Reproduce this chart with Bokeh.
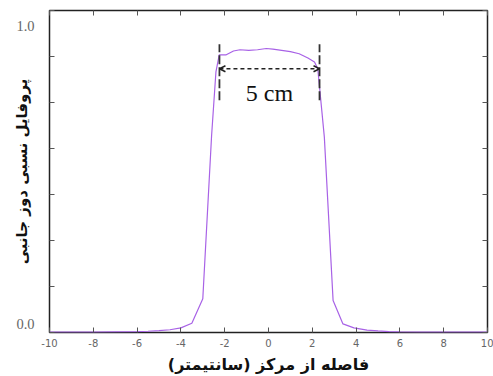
from bokeh.plotting import figure
from bokeh.models import (LinearAxis, FixedTicker, Label, Arrow, OpenHead,
                          Range1d, ColumnDataSource, NumeralTickFormatter)
from bokeh.embed import file_html
from bokeh.resources import INLINE

# ---- data ----
distance_cm = [-10, -9, -8, -7, -6, -5.5, -5, -4.5, -4, -3.5, -3.0, -2.6, -2.4,
               -2.25, -1.95, -1.6, -1.3, -0.9, -0.5, -0.1, 0.2, 0.6, 1.0, 1.4,
               1.8, 2.1, 2.25, 2.55, 2.95, 3.4, 3.9, 4.5, 5, 5.5, 6, 7, 8, 9, 10]
relative_dose = [0.001, 0.001, 0.001, 0.002, 0.003, 0.004, 0.006, 0.009, 0.015,
                 0.03, 0.11, 0.64, 0.85, 0.905, 0.905, 0.918, 0.922, 0.92,
                 0.922, 0.926, 0.924, 0.92, 0.916, 0.909, 0.895, 0.882, 0.86,
                 0.637, 0.104, 0.028, 0.015, 0.008, 0.005, 0.003, 0.002, 0.001,
                 0.001, 0.001, 0.001]
x_ticks = [-10, -8, -6, -4, -2, 0, 2, 4, 6, 8, 10]
x_tick_labels = ["-10", "-8", "-6", "-4", "-2", "0", "2", "4", "6", "8", "10"]
y_ticks = [0, 0.15, 0.3, 0.45, 0.6, 0.75, 0.9, 1.05]
y_label_ticks = [0.027, 1.0]      # where the "0.0" / "1.0" labels sit
field_edges = [-2.24, 2.33]       # 5 cm field width markers
field_marker_span = [0.757, 0.94]
width_arrow_level = 0.86
width_text = "5 cm"

x_title = "فاصله از مرکز (سانتیمتر)"
y_title = "پروفایل نسبی دوز جانبی"

p = figure(width=493, height=376, output_backend="svg", toolbar_location=None,
           x_range=Range1d(-10, 10), y_range=Range1d(0, 1.05),
           min_border_left=49, min_border_right=6, min_border_top=10,
           min_border_bottom=44, x_axis_location=None, y_axis_location=None)
p.grid.visible = False
p.outline_line_color = "#222222"
p.outline_line_width = 1.5
p.background_fill_color = "white"
p.border_fill_color = "white"

def style_axis(ax, show_labels=False):
    ax.axis_line_color = None
    ax.major_tick_in = 5
    ax.major_tick_out = 0
    ax.minor_tick_line_color = None
    ax.major_tick_line_color = "#555555"
    ax.major_tick_line_width = 1
    if not show_labels:
        ax.major_label_text_font_size = "0px"
        ax.major_label_standoff = 0

# bottom axis
xb = LinearAxis(ticker=FixedTicker(ticks=x_ticks))
style_axis(xb, show_labels=True)
xb.major_label_overrides = dict(zip(x_ticks, x_tick_labels))
xb.major_label_text_font = "DejaVu Sans"
xb.major_label_text_font_size = "10px"
xb.major_label_text_color = "#666666"
xb.major_label_standoff = 6
xb.axis_label = x_title
xb.axis_label_text_font = "DejaVu Sans"
xb.axis_label_text_font_style = "bold"
xb.axis_label_text_font_size = "16px"
xb.axis_label_text_color = "#111111"
xb.axis_label_standoff = 5
p.add_layout(xb, "below")

# top axis
xt = LinearAxis(ticker=FixedTicker(ticks=x_ticks))
style_axis(xt)
p.add_layout(xt, "above")

# left axis: minor ticks = tick marks, major (invisible) = "0.0"/"1.0" labels
yl = LinearAxis(ticker=FixedTicker(ticks=y_label_ticks, minor_ticks=y_ticks),
                formatter=NumeralTickFormatter(format="0.0"))
yl.axis_line_color = None
yl.major_tick_line_color = None
yl.major_tick_in = 0
yl.major_tick_out = 0
yl.minor_tick_in = 5
yl.minor_tick_out = 0
yl.minor_tick_line_color = "#555555"
yl.major_label_text_font = "Liberation Serif"
yl.major_label_text_font_size = "14.5px"
yl.major_label_text_color = "#666666"
yl.major_label_standoff = 15
yl.axis_label = y_title
yl.axis_label_text_font = "DejaVu Sans"
yl.axis_label_text_font_style = "bold"
yl.axis_label_text_font_size = "15px"
yl.axis_label_text_color = "#111111"
yl.axis_label_standoff = -18
p.add_layout(yl, "left")

# right axis
yr = LinearAxis(ticker=FixedTicker(ticks=y_ticks))
style_axis(yr)
p.add_layout(yr, "right")

src = ColumnDataSource(dict(x=distance_cm, y=relative_dose))
p.line("x", "y", source=src, line_color="#a862e6", line_width=1.2)

# field-width markers
p.segment(x0=field_edges, y0=[field_marker_span[0]] * 2,
          x1=field_edges, y1=[field_marker_span[1]] * 2,
          line_color="#333333", line_width=1.8, line_dash="9 3")
p.add_layout(Arrow(start=OpenHead(size=6, line_width=1.5, line_color="#222222"),
                   end=OpenHead(size=6, line_width=1.5, line_color="#222222"),
                   x_start=field_edges[0], x_end=field_edges[1],
                   y_start=width_arrow_level, y_end=width_arrow_level,
                   line_dash="4 3", line_width=1.5, line_color="#222222"))
p.add_layout(Label(x=sum(field_edges) / 2, y=0.78, text=width_text,
                   text_align="center", text_baseline="middle",
                   text_font="Liberation Serif", text_font_size="24px",
                   text_color="#111111"))

open("out.html", "w").write(file_html(p, INLINE))
